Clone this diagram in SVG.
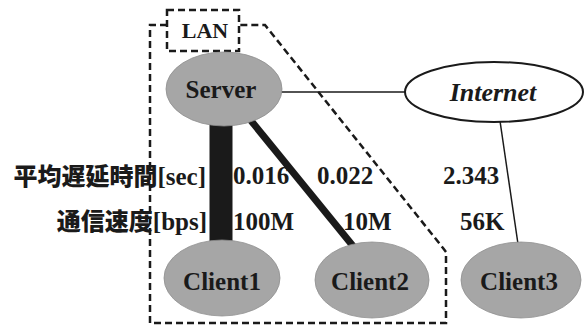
<svg xmlns="http://www.w3.org/2000/svg" width="585" height="326" viewBox="0 0 585 326">
<style>
.node{fill:#a6a6a6;stroke:#8f8f8f;stroke-width:0.8}
.dash{fill:none;stroke:#1a1a1a;stroke-width:2.5;stroke-dasharray:7 4}
</style>
<rect width="585" height="326" fill="#ffffff"/>
<g id="lan-boundary">
<path class="dash" d="M167,25 H150 V323 H446 V252 L443,248 L265,25 H239"/>
<rect class="dash" x="167" y="10" width="72" height="41"/>
<text x="205" y="38" font-family="Liberation Serif" font-weight="bold" font-size="22" text-anchor="middle" fill="#1a1a1a">LAN</text>
</g>
<g id="connectors" stroke="#1a1a1a" fill="none">
<line x1="221" y1="118" x2="221" y2="248" stroke-width="23"/>
<line x1="248" y1="117" x2="353" y2="246" stroke-width="7"/>
<line x1="280" y1="92" x2="406" y2="92" stroke-width="1.5"/>
<line x1="500" y1="121" x2="518" y2="244" stroke-width="1.5"/>
</g>
<g id="server">
<ellipse class="node" cx="224" cy="89" rx="58" ry="37"/>
<text x="221" y="98" font-family="Liberation Serif" font-weight="bold" font-size="25" text-anchor="middle" fill="#1a1a1a">Server</text>
</g>
<g id="internet">
<ellipse cx="494" cy="92" rx="89" ry="30" fill="#ffffff" stroke="#1a1a1a" stroke-width="2"/>
<text x="493" y="101" font-family="Liberation Serif" font-weight="bold" font-style="italic" font-size="26" text-anchor="middle" fill="#1a1a1a">Internet</text>
</g>
<g id="client1">
<ellipse class="node" cx="222" cy="278" rx="58" ry="38"/>
<text x="222" y="290" font-family="Liberation Serif" font-weight="bold" font-size="25" text-anchor="middle" fill="#1a1a1a">Client1</text>
</g>
<g id="client2">
<ellipse class="node" cx="372" cy="280" rx="57" ry="38"/>
<text x="370" y="290" font-family="Liberation Serif" font-weight="bold" font-size="25" text-anchor="middle" fill="#1a1a1a">Client2</text>
</g>
<g id="client3">
<ellipse class="node" cx="521" cy="280" rx="60" ry="38"/>
<text x="519" y="290" font-family="Liberation Serif" font-weight="bold" font-size="25" text-anchor="middle" fill="#1a1a1a">Client3</text>
</g>
<g id="labels" fill="#1a1a1a">
<text x="206" y="185" text-anchor="end" font-family="Noto Sans CJK JP, sans-serif" font-weight="900" font-size="24">平均遅延時間<tspan font-family="Liberation Serif" font-weight="bold" font-size="25">[sec]</tspan></text>
<text x="207" y="230" text-anchor="end" font-family="Noto Sans CJK JP, sans-serif" font-weight="900" font-size="24">通信速度<tspan font-family="Liberation Serif" font-weight="bold" font-size="25">[bps]</tspan></text>
<g font-family="Liberation Serif" font-weight="bold" font-size="25">
<text x="233" y="184">0.016</text>
<text x="317" y="184">0.022</text>
<text x="443" y="184">2.343</text>
<text x="233" y="230">100M</text>
<text x="343" y="230">10M</text>
<text x="460" y="230">56K</text>
</g>
</g>
</svg>
